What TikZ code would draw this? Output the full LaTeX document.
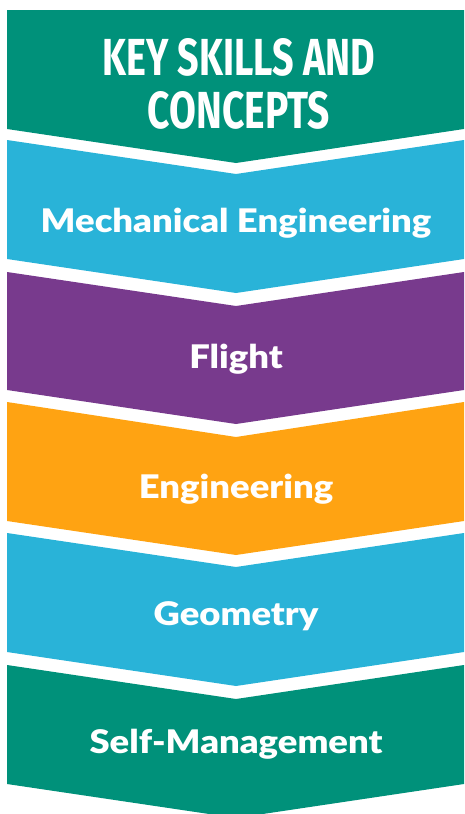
\documentclass[tikz,border=0pt]{standalone}
\usepackage{fontspec}
\usepackage{graphicx}
\setmainfont{Lato}
\newfontfamily\skillfont{Lato Black}[FakeStretch=1.12]
\newfontfamily\headfont{Fira Sans}
\definecolor{keygreen}{RGB}{0,145,122}
\definecolor{keyblue}{RGB}{41,179,216}
\definecolor{keypurple}{RGB}{120,58,141}
\definecolor{keyorange}{RGB}{255,163,18}
\begin{document}
\begin{tikzpicture}[x=1pt,y=-1pt]
        \tikzstyle{every node}+=[inner sep=0pt]
        \tikzstyle{skill}=[text=white,font=\skillfont\fontsize{32.5}{38}\selectfont,anchor=base]
        \tikzstyle{head}=[text=white,font=\headfont\bfseries,anchor=base]
        \useasboundingbox (0,0) rectangle (464,814);
        % title band
        \fill [keygreen] (7,10) -- (464,10) -- (464,129) -- (236,163) -- (7,129) -- cycle;
        \node [head] (title1) at (239,75) {\resizebox{272pt}{37pt}{KEY SKILLS AND}};
        \node [head] (title2) at (239,128) {\resizebox{182pt}{37pt}{CONCEPTS}};
        % chevrons
        \fill [keyblue] (7,140) -- (236,174) -- (464,140) -- (464,259) -- (236,293) -- (7,259) -- cycle;
        \node [skill] (mech) at (236,232) {Mechanical Engineering};
        \fill [keypurple] (7,272) -- (236,306) -- (464,272) -- (464,390) -- (236,424) -- (7,390) -- cycle;
        \node [skill] (flight) at (236,368) {Flight};
        \fill [keyorange] (7,402) -- (236,437) -- (464,402) -- (464,521) -- (236,555) -- (7,521) -- cycle;
        \node [skill] (eng) at (236,498) {Engineering};
        \fill [keyblue] (7,533) -- (236,567) -- (464,533) -- (464,652) -- (236,686) -- (7,652) -- cycle;
        \node [skill] (geom) at (236,625) {Geometry};
        \fill [keygreen] (7,665) -- (236,699) -- (464,665) -- (464,784) -- (236,818) -- (7,784) -- cycle;
        \node [skill] (selfman) at (236,753) {Self-Management};
\end{tikzpicture}
\end{document}
